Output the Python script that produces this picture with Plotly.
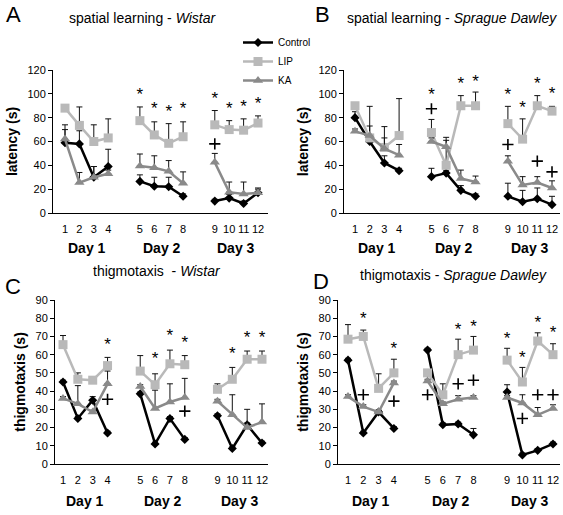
import plotly.graph_objects as go

W, H = 563, 515

trials = list(range(1, 13))
tick_labels = [str(t) for t in trials]
days = ["Day 1", "Day 2", "Day 3"]
series_names = ["Control", "LIP", "KA"]

# ---------------- Panel A: spatial learning - Wistar (latency, s)
a_control = [59, 58, 30, 39, 26.5, 22.5, 22, 14, 10, 12.5, 8, 17]
a_control_err = [11, 11, 9, 14.5, 5.5, 7.5, 8, 2, 1.5, 3, 2, 3]
a_lip = [88, 73.5, 60, 63, 77.5, 65.5, 58.5, 64, 74, 70, 69.5, 75.5]
a_lip_err = [3, 15.5, 14, 16, 11.5, 11, 16.5, 12.5, 12, 7.5, 9.5, 6]
a_ka = [62, 25.5, 30, 33, 39.5, 38, 35, 25, 42.5, 17.5, 16, 17]
a_ka_err = [12, 8.5, 9, 3, 10, 10, 9, 9.5, 7.5, 8.5, 10, 4]
a_star_trials = [5, 6, 7, 8, 9, 10, 11, 12]
a_star_y = [98, 86.5, 84, 86.5, 95, 87, 88.5, 91]
a_plus_trials = [9]
a_plus_y = [58]

# ---------------- Panel B: spatial learning - Sprague Dawley (latency, s)
b_control = [80, 60, 42, 35.5, 30.5, 33.5, 19, 14, 14, 9.5, 12, 7]
b_control_err = [5, 4, 6, 2, 7, 2, 4, 2, 11, 9.5, 9, 7]
b_lip = [90, 63, 55, 65, 67.5, 40, 90, 90, 75, 62, 90, 85.5]
b_lip_err = [2, 26.5, 17.5, 31, 11, 21, 8.5, 11.5, 14.5, 17, 8.5, 4]
b_ka = [68.5, 65, 54, 48.5, 60, 55.5, 29, 26, 43.5, 23.5, 25.5, 21]
b_ka_err = [2, 8, 9, 9, 3, 8, 7, 5, 4.5, 7, 5, 6]
b_star_trials = [5, 7, 8, 9, 10, 11, 12]
b_star_y = [98, 108, 109, 98, 87.5, 108, 99]
b_plus_trials = [5, 9, 11, 12]
b_plus_y = [87.5, 57.5, 43.5, 34.5]

# ---------------- Panel C: thigmotaxis - Wistar (s)
c_control = [45, 25, 35, 17, 38.5, 11, 25, 13.5, 26.5, 8.5, 21.5, 11.5]
c_control_err = [1, 1, 2, 1, 1, 1, 1, 1, 1, 1, 1, 1]
c_lip = [65.5, 46.5, 46, 54, 51, 43.5, 55, 54.5, 41, 46.5, 57.5, 57.5]
c_lip_err = [5, 3.5, 1, 4.5, 8.5, 6, 7.5, 5, 3, 6.5, 4.5, 4.5]
c_ka = [36, 33, 28.5, 44, 42.5, 30.5, 34, 36.5, 34.5, 27, 20, 23]
c_ka_err = [1, 10, 1, 7, 1, 10, 10, 10.5, 1, 11, 10, 10]
c_star_trials = [4, 6, 7, 8, 10, 11, 12]
c_star_y = [65, 57, 70, 66, 60, 68.5, 68.5]
c_plus_trials = [4, 8]
c_plus_y = [35.5, 29]

# ---------------- Panel D: thigmotaxis - Sprague Dawley (s)
d_control = [57, 17, 28.5, 19.5, 62.5, 21.5, 22, 16, 39.5, 5, 7.5, 11]
d_control_err = [1, 1, 1, 1, 1, 1, 1, 3.5, 4, 1, 1, 1]
d_lip = [68.5, 70, 41.5, 50, 50, 38, 60, 62.5, 57, 45, 67.5, 60]
d_lip_err = [8, 3.5, 8, 7.5, 1, 6, 8.5, 7.5, 6.5, 8, 4.5, 6]
d_ka = [37, 31.5, 28.5, 44.5, 45.5, 33, 35.5, 36.5, 36.5, 33.5, 27, 30.5]
d_ka_err = [1, 1, 1, 1, 1, 1, 2, 1, 1, 4.5, 4, 2]
d_star_trials = [2, 4, 7, 8, 9, 10, 11, 12]
d_star_y = [79, 62.5, 73, 74.5, 68, 58, 77, 71.5]
d_plus_trials = [2, 4, 5, 7, 8, 10, 11, 12]
d_plus_y = [38, 34.5, 38, 44, 46, 25, 38, 38]

FONT = "Liberation Sans, Arial, sans-serif"
COLORS = {"Control": "#000000", "LIP": "#b9b9b9", "KA": "#8a8a8a"}
SYMBOLS = {"Control": "diamond", "LIP": "square", "KA": "triangle-up"}
SIZES = {"Control": 7, "LIP": 9, "KA": 9}
GAP = 1.2


def pos(t):
    return (t - 1) + ((t - 1) // 4) * GAP


def broken(values):
    xs, ys = [], []
    for t, v in zip(trials, values):
        if t > 1 and (t - 1) % 4 == 0:
            xs.append(None)
            ys.append(None)
        xs.append(pos(t))
        ys.append(v)
    return xs, ys


panels = [
    dict(letter="A", title="spatial learning - <i>Wistar</i>", ytitle="latency (s)",
         series=[(a_control, a_control_err), (a_lip, a_lip_err), (a_ka, a_ka_err)],
         stars=(a_star_trials, a_star_y), plus=(a_plus_trials, a_plus_y),
         ymax=120, dtick=20, px=(53, 268), first=65, last=258, top=70, bottom=213,
         title_xy=(143, 18), letter_xy=(13, 14), day_y=248),
    dict(letter="B", title="spatial learning - <i>Sprague Dawley</i>", ytitle="latency (s)",
         series=[(b_control, b_control_err), (b_lip, b_lip_err), (b_ka, b_ka_err)],
         stars=(b_star_trials, b_star_y), plus=(b_plus_trials, b_plus_y),
         ymax=120, dtick=20, px=(344, 560), first=355, last=552, top=70, bottom=213,
         title_xy=(452, 18), letter_xy=(322, 14), day_y=248),
    dict(letter="C", title="thigmotaxis  - <i>Wistar</i>", ytitle="thigmotaxis (s)",
         series=[(c_control, c_control_err), (c_lip, c_lip_err), (c_ka, c_ka_err)],
         stars=(c_star_trials, c_star_y), plus=(c_plus_trials, c_plus_y),
         ymax=90, dtick=10, px=(55, 268), first=63, last=262, top=300, bottom=464,
         title_xy=(157, 271), letter_xy=(13, 286), day_y=501),
    dict(letter="D", title="thigmotaxis - <i>Sprague Dawley</i>", ytitle="thigmotaxis (s)",
         series=[(d_control, d_control_err), (d_lip, d_lip_err), (d_ka, d_ka_err)],
         stars=(d_star_trials, d_star_y), plus=(d_plus_trials, d_plus_y),
         ymax=90, dtick=10, px=(338, 560), first=348, last=553, top=300, bottom=464,
         title_xy=(453, 275), letter_xy=(321, 281), day_y=501),
]

fig = go.Figure()
annotations = []
last_pos = pos(12)

for k, p in enumerate(panels):
    idx = "" if k == 0 else str(k + 1)
    xa, ya = "x" + idx, "y" + idx
    for name, (vals, errs) in zip(series_names, p["series"]):
        xs, ys = broken(vals)
        _, es = broken(errs)
        fig.add_trace(go.Scatter(
            x=xs, y=ys, xaxis=xa, yaxis=ya, mode="lines+markers", name=name,
            legendgroup=name, showlegend=(k == 0), cliponaxis=False,
            line=dict(color=COLORS[name], width=2.5),
            marker=dict(symbol=SYMBOLS[name], size=SIZES[name], color=COLORS[name]),
            error_y=dict(type="data", symmetric=False, array=es,
                         arrayminus=[0 if e is not None else None for e in es],
                         color="#111111", thickness=1, width=3),
        ))
    st, sy = p["stars"]
    fig.add_trace(go.Scatter(x=[pos(t) for t in st], y=sy, xaxis=xa, yaxis=ya, mode="text",
                             text=["*"] * len(st), showlegend=False, cliponaxis=False,
                             textfont=dict(family=FONT, size=17, color="black"), hoverinfo="skip"))
    pt, py = p["plus"]
    fig.add_trace(go.Scatter(x=[pos(t) for t in pt], y=py, xaxis=xa, yaxis=ya, mode="markers",
                             showlegend=False, cliponaxis=False, hoverinfo="skip",
                             marker=dict(symbol="cross-thin", size=8, color="black",
                                         line=dict(color="black", width=1.6))))

    left, right = p["px"]
    ppu = (p["last"] - p["first"]) / last_pos
    xr = [-(p["first"] - left) / ppu, last_pos + (right - p["last"]) / ppu]
    xkey = "xaxis" + idx
    ykey = "yaxis" + idx
    fig.layout[xkey] = dict(
        domain=[left / W, right / W], range=xr, anchor=ya, automargin=False,
        showline=True, linecolor="black", linewidth=1, showgrid=False, zeroline=False,
        tickmode="array", tickvals=[pos(t) for t in trials], ticktext=tick_labels,
        ticks="", ticklabelstandoff=6,
        tickfont=dict(family=FONT, size=11, color="black"), fixedrange=True,
    )
    fig.layout[ykey] = dict(
        domain=[1 - p["bottom"] / H, 1 - p["top"] / H], range=[0, p["ymax"]], anchor=xa,
        automargin=False,
        showline=True, linecolor="black", linewidth=1, showgrid=False, zeroline=False,
        dtick=p["dtick"], ticks="outside", ticklen=4, tickcolor="black",
        tickfont=dict(family=FONT, size=11, color="black"), fixedrange=True,
        title=dict(text="<b>" + p["ytitle"] + "</b>", font=dict(family=FONT, size=14, color="black"),
                   standoff=6),
    )
    for g, d in enumerate(days):
        annotations.append(dict(
            text="<b>" + d + "</b>", xref=xa, yref="paper",
            x=(pos(4 * g + 1) + pos(4 * g + 4)) / 2, y=1 - p["day_y"] / H,
            showarrow=False, font=dict(family=FONT, size=14, color="black"),
            xanchor="center", yanchor="middle"))
    tx, ty = p["title_xy"]
    annotations.append(dict(text=p["title"], xref="paper", yref="paper", x=tx / W, y=1 - ty / H,
                            showarrow=False, font=dict(family=FONT, size=14, color="black"),
                            xanchor="center", yanchor="middle"))
    lx, ly = p["letter_xy"]
    annotations.append(dict(text=p["letter"], xref="paper", yref="paper", x=lx / W, y=1 - ly / H,
                            showarrow=False, font=dict(family=FONT, size=22, color="black"),
                            xanchor="center", yanchor="middle"))

fig.update_layout(
    width=W, height=H, margin=dict(l=0, r=0, t=0, b=0, autoexpand=False),
    paper_bgcolor="white", plot_bgcolor="white",
    annotations=annotations,
    legend=dict(x=238 / W, y=1 - 28 / H, xanchor="left", yanchor="top",
                font=dict(family=FONT, size=10, color="black"), bgcolor="rgba(0,0,0,0)",
                itemwidth=30, tracegroupgap=0),
    font=dict(family=FONT),
)

fig.write_html("out.html", config={"displayModeBar": False},
               post_script="document.body.style.margin='0';document.body.style.overflow='hidden';")
